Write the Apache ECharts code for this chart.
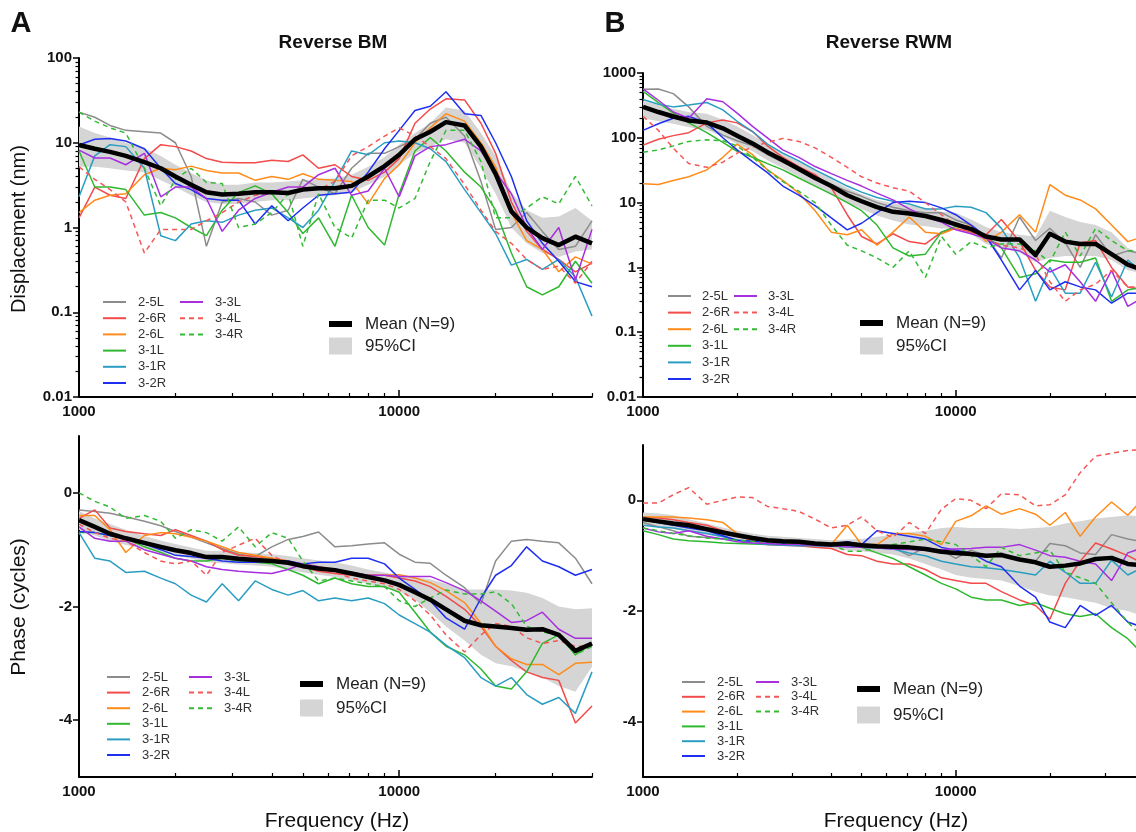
<!DOCTYPE html>
<html>
<head>
<meta charset="utf-8">
<title>Reverse BM / Reverse RWM</title>
<script src="https://cdn.jsdelivr.net/npm/echarts@6.0.0/dist/echarts.min.js"></script>
<style>
html, body { margin: 0; padding: 0; background: #fff; }
#chart { width: 1136px; height: 832px; }
</style>
</head>
<body>
<div id="chart"></div>
<script>
/*
 * Reverse stimulation: BM / RWM displacement and phase, 9 specimens
 */

var freqHz = [1000, 1120, 1250, 1400, 1600, 1800, 2000, 2240, 2500, 2800, 3150,
    3550, 4000, 4500, 5000, 5600, 6300, 7100, 8000, 9000, 10000, 11200, 12500,
    14000, 16000, 18000, 20000, 22400, 25000, 28000, 31500, 35500, 40000];

var specimenNames = ['2-5L', '2-6R', '2-6L', '3-1L', '3-1R', '3-2R', '3-3L', '3-4L', '3-4R'];
var specimenColors = ['#8c8c8c', '#f34a4a', '#ff8c1a', '#2fb82f', '#2a9ec2', '#1f2ff0',
    '#a62fe0', '#f55656', '#34bb34'];
var dashedNames = ['3-4L', '3-4R'];

var freqTickLabels = [1000, 10000];
var freqMinorTicks = [2000, 3000, 4000, 5000, 6000, 7000, 8000, 9000, 20000, 30000, 40000];
var bmDispTicks = [0.01, 0.1, 1, 10, 100];
var rwmDispTicks = [0.01, 0.1, 1, 10, 100, 1000];
var phaseTicks = [-4, -2, 0];

// Reverse BM displacement (nm)
var bmDisp = [
    /* 2-5L */ [23, 20, 16, 14, 13.5, 13, 10, 4, 0.6, 2.0, 2.2, 2.0, 1.4, 1.6, 3.7, 3.0, 2.5, 5, 7.5, 7.5, 9, 11, 17, 20, 12, 3.5, 0.95, 1.0, 1.5, 0.9, 0.55, 0.6, 1.2],
    /* 2-6R */ [1.3, 3.0, 2.4, 2.2, 6.5, 9.5, 9.0, 8, 6.5, 5.9, 5.8, 5.8, 6.2, 6.0, 7.2, 5.0, 5.5, 4.0, 3.6, 4.5, 6.5, 17, 25, 33, 32, 17, 7.5, 2.0, 0.9, 0.55, 0.42, 0.3, 0.38],
    /* 2-6L */ [1.5, 2.1, 2.4, 2.5, 4.2, 5.0, 4.8, 5.3, 4.7, 4.4, 4.4, 3.6, 4.0, 3.7, 4.3, 3.7, 3.6, 3.5, 1.9, 3.8, 5.5, 10, 15, 22, 18, 10, 5.2, 1.5, 0.7, 0.55, 0.3, 0.45, 0.37],
    /* 3-1L */ [8, 3.0, 3.0, 2.8, 1.4, 1.5, 1.3, 1.0, 0.8, 1.6, 2.6, 3.1, 2.5, 1.5, 0.85, 1.3, 0.6, 2.4, 1.0, 0.62, 2.5, 8, 11.5, 8, 4.5, 3.0, 1.6, 0.5, 0.2, 0.16, 0.2, 0.4, 0.22],
    /* 3-1R */ [2.3, 7, 9.5, 9, 5, 0.8, 0.7, 1.1, 1.2, 1.15, 1.4, 1.6, 1.7, 1.3, 1.0, 1.6, 3.5, 8, 7.2, 10, 10.5, 10, 8.5, 6, 2.8, 1.5, 0.85, 0.36, 0.42, 0.32, 0.42, 0.26, 0.09],
    /* 3-2R */ [9.4, 11, 11.2, 10.5, 8.5, 5, 3.3, 2.8, 2.2, 2.1, 2.1, 1.1, 1.8, 1.2, 1.7, 2.4, 2.5, 2.6, 4.5, 8.5, 14, 24, 27, 40, 22, 21, 10, 4, 1.2, 0.65, 0.4, 0.23, 0.2],
    /* 3-3L */ [8.2, 6.6, 6.6, 5.5, 7.5, 2.3, 3.0, 3.0, 2.2, 0.9, 1.6, 2.2, 2.6, 3.0, 3.0, 4.2, 5.0, 2.4, 2.7, 5, 2.3, 7, 9, 9.5, 11, 8, 4.5, 2.5, 1.0, 0.55, 1.0, 0.24, 0.95],
    /* 3-4L */ [5.2, 3.7, 2.8, 2.0, 0.5, 0.95, 0.95, 0.95, 1.2, 1.5, 2.0, 2.4, 2.6, 2.5, 3.0, 2.8, 3.5, 7, 9, 12, 15, 12, 9, 6.5, 3.2, 1.6, 0.9, 0.65, 0.42, 0.32, 0.35, 0.22, 0.4],
    /* 3-4R */ [23, 18, 15, 13, 5, 1.8, 3.7, 5, 3.4, 3.3, 1.0, 1.1, 1.5, 2.5, 0.6, 2.5, 1.0, 0.75, 2.1, 2.1, 1.7, 2.2, 6, 14, 14, 6, 1.3, 1.3, 1.7, 2.3, 1.9, 4, 1.8]
];
var bmDispMean = [9.4, 8.5, 7.8, 7, 5.9, 5.0, 4.0, 3.2, 2.6, 2.45, 2.5, 2.6, 2.6, 2.55, 2.8, 2.9, 2.9, 3.1, 4, 5.3, 7.2, 11, 13.5, 17.5, 16, 9, 4.3, 1.55, 1.0, 0.75, 0.62, 0.78, 0.65];
var bmDispLo = [5.2, 5.2, 5.0, 4.7, 4.5, 3.6, 3.0, 2.4, 2.0, 1.9, 1.9, 2.0, 2.1, 2.1, 2.2, 2.3, 2.4, 2.6, 3.2, 4.0, 5.5, 7.5, 9, 11, 10, 5, 2.5, 1.0, 0.65, 0.5, 0.45, 0.52, 0.55];
var bmDispHi = [15.5, 13, 11.5, 10, 8.7, 7.0, 5.5, 4.4, 3.6, 3.2, 3.2, 3.4, 3.4, 3.5, 3.6, 3.7, 3.8, 4.2, 5.2, 6.8, 9.5, 13, 17, 26, 24, 13, 7, 2.6, 1.6, 1.3, 1.35, 1.7, 1.2];

// Reverse RWM displacement (nm)
var rwmDisp = [
    /* 2-5L */ [560, 565, 480, 300, 150, 110, 90, 75, 55, 42, 33, 25, 19, 15, 12.5, 10, 8.5, 7.5, 7, 7, 5.4, 4.5, 3.0, 1.4, 6.0, 2.6, 4.0, 2.4, 1.0, 3.2, 1.5, 1.8, 1.6],
    /* 2-6R */ [77, 95, 108, 120, 170, 188, 170, 125, 75, 50, 36, 27, 17, 6.5, 3.0, 2.3, 3.3, 2.5, 2.3, 3.5, 4.0, 3.5, 3.2, 5.5, 2.5, 0.9, 0.5, 0.45, 2.4, 2.6, 1.0, 0.5, 0.45],
    /* 2-6L */ [19.5, 19, 22, 25, 32, 50, 80, 55, 32, 22, 14, 7.5, 3.5, 3.2, 3.8, 2.2, 3.5, 6, 3.5, 3.3, 4.0, 4.5, 2.5, 3.5, 6.5, 3.5, 19, 13, 11, 8, 4.5, 2.5, 3.0],
    /* 3-1L */ [520, 350, 240, 170, 120, 85, 62, 50, 40, 32, 24, 18, 13.5, 10, 7.5, 4.5, 2.0, 1.5, 1.6, 3.5, 4.3, 4.0, 3.0, 2.0, 0.7, 0.8, 1.3, 1.2, 1.2, 1.4, 0.3, 0.45, 0.5],
    /* 3-1R */ [390, 330, 300, 320, 350, 270, 180, 125, 80, 58, 44, 32, 24, 18, 14.5, 12, 10.5, 9.5, 8, 8, 8.8, 8.5, 7, 4, 1.4, 0.3, 1.0, 0.4, 0.4, 1.2, 0.35, 1.3, 0.8],
    /* 3-2R */ [130, 165, 200, 215, 170, 100, 65, 43, 29, 18, 13, 9, 5.8, 3.8, 4.8, 7, 10, 10.5, 10, 8.3, 6.5, 4.5, 3.0, 1.3, 0.45, 0.9, 0.45, 0.6, 0.5, 0.45, 0.28, 0.4, 0.4],
    /* 3-3L */ [570, 380, 250, 200, 400, 360, 240, 150, 100, 65, 50, 36, 28, 22, 18, 14, 11, 8, 6, 5, 3.8, 3.3, 2.8, 2.0, 1.8, 1.3, 0.85, 1.1, 0.6, 0.3, 0.9, 0.25, 0.35],
    /* 3-4L */ [215, 130, 69, 40, 35, 42, 58, 72, 85, 98, 88, 70, 50, 35, 25, 20, 17, 15, 10, 6.5, 4.5, 3.5, 2.8, 2.2, 2.0, 1.6, 0.6, 0.3, 0.45, 0.55, 0.9, 0.5, 0.5],
    /* 3-4R */ [60, 65, 75, 88, 93, 90, 75, 50, 32, 21, 15, 10, 4.5, 2.2, 1.8, 1.4, 1.0, 1.8, 0.7, 3.0, 1.6, 2.5, 2.0, 2.3, 2.3, 1.8, 1.2, 3.5, 1.5, 4.0, 2.6, 1.8, 1.8]
];
var rwmDispMean = [300, 250, 213, 185, 172, 140, 108, 82, 60, 45, 33, 24, 18, 13, 10.5, 8.5, 7.2, 6.8, 6.2, 5.4, 4.6, 3.9, 3.0, 2.7, 2.7, 1.55, 3.3, 2.5, 2.3, 2.3, 1.6, 1.1, 0.9];
var rwmDispLo = [200, 180, 165, 145, 132, 105, 80, 62, 45, 34, 25, 18, 13.5, 10, 8, 6.3, 5.3, 4.6, 4.3, 4.0, 4.0, 3.3, 2.3, 2.0, 1.7, 1.2, 1.4, 1.5, 1.5, 1.5, 1.3, 0.9, 0.8];
var rwmDispHi = [370, 320, 280, 250, 235, 190, 150, 110, 78, 58, 44, 31, 23, 17, 13.5, 11, 9.8, 9, 8.3, 7.2, 7.0, 5.5, 4.2, 3.5, 3.2, 3.0, 7.5, 6.0, 5.0, 4.5, 3.5, 2.0, 1.6];

// Reverse BM phase (cycles)
var bmPhase = [
    /* 2-5L */ [-0.3, -0.33, -0.36, -0.42, -0.5, -0.58, -0.68, -0.78, -0.88, -0.98, -1.08, -1.12, -0.95, -0.82, -0.77, -0.69, -0.95, -0.93, -0.9, -0.88, -1.08, -1.22, -1.24, -1.45, -1.67, -1.95, -1.2, -0.85, -0.82, -0.85, -0.88, -1.15, -1.6],
    /* 2-6R */ [-0.45, -0.3, -0.62, -0.68, -0.72, -0.75, -0.65, -0.75, -0.85, -1.0, -1.1, -1.12, -1.15, -1.2, -1.3, -1.38, -1.42, -1.45, -1.45, -1.45, -1.5, -1.55, -1.65, -1.82, -2.05, -2.35, -2.7, -2.95, -3.15, -3.25, -3.3, -4.05, -3.75],
    /* 2-6L */ [-0.4, -0.4, -0.65, -1.05, -0.75, -0.7, -0.72, -0.78, -0.85, -0.95, -1.05, -1.1, -1.15, -1.2, -1.25, -1.3, -1.35, -1.42, -1.45, -1.45, -1.44, -1.5, -1.58, -1.72, -1.93, -2.3, -2.7, -2.92, -3.02, -3.02, -3.2, -3.0, -2.98],
    /* 3-1L */ [-0.7, -0.7, -0.75, -0.8, -0.95, -1.05, -1.15, -1.2, -1.2, -1.15, -1.2, -1.22, -1.25, -1.35, -1.45, -1.6, -1.5, -1.6, -1.65, -1.65, -1.75, -2.1, -2.45, -2.7, -2.85, -3.1, -3.4, -3.45, -3.15, -2.65, -2.5, -2.85, -2.65],
    /* 3-1R */ [-0.7, -1.15, -1.2, -1.4, -1.38, -1.5, -1.6, -1.8, -1.92, -1.6, -1.9, -1.55, -1.7, -1.8, -1.72, -1.9, -1.85, -1.9, -1.85, -1.95, -2.15, -2.3, -2.45, -2.68, -2.9, -3.25, -3.4, -3.25, -3.55, -3.72, -3.6, -3.88, -3.15],
    /* 3-2R */ [-0.68, -0.7, -0.75, -0.8, -0.9, -1.0, -1.1, -1.12, -1.15, -1.2, -1.22, -1.22, -1.2, -1.2, -1.25, -1.22, -1.22, -1.15, -1.15, -1.25, -1.5, -1.7, -1.9, -2.2, -2.4, -1.85, -1.45, -1.28, -0.95, -1.2, -1.3, -1.45, -1.35],
    /* 3-3L */ [-0.6, -0.8, -0.85, -0.85, -1.0, -1.08, -1.15, -1.2, -1.3, -1.35, -1.38, -1.4, -1.42, -1.35, -1.25, -1.3, -1.38, -1.4, -1.45, -1.45, -1.47, -1.47, -1.47, -1.58, -1.72, -1.9, -2.08, -2.28, -2.25, -2.1, -2.4, -2.56, -2.56],
    /* 3-4L */ [-0.55, -0.7, -0.8, -0.85, -1.05, -1.2, -1.25, -1.2, -1.45, -1.05, -0.92, -0.8, -1.1, -1.25, -1.3, -1.35, -1.4, -1.5, -1.55, -1.6, -1.7, -1.9, -2.15, -2.5, -2.8, -2.5, -2.3, -2.35, -2.55, -2.65, -2.6, -2.7, -2.7],
    /* 3-4R */ [0.0, -0.15, -0.25, -0.45, -0.4, -0.5, -0.8, -0.65, -0.7, -0.85, -0.6, -0.95, -0.7, -0.8, -1.2, -1.55, -1.5, -1.55, -1.6, -1.65, -1.9, -2.0, -1.85, -1.71, -1.78, -1.78, -1.74, -1.95, -2.35, -2.45, -2.5, -2.85, -2.7]
];
var bmPhaseMean = [-0.48, -0.6, -0.72, -0.8, -0.88, -0.95, -1.01, -1.06, -1.13, -1.13, -1.16, -1.18, -1.2, -1.23, -1.29, -1.33, -1.36, -1.42, -1.48, -1.54, -1.62, -1.75, -1.88, -2.05, -2.25, -2.33, -2.35, -2.38, -2.41, -2.4, -2.5, -2.78, -2.65];
var bmPhaseLo = [-0.65, -0.75, -0.85, -0.92, -0.98, -1.05, -1.1, -1.16, -1.22, -1.24, -1.26, -1.28, -1.3, -1.35, -1.4, -1.44, -1.48, -1.54, -1.6, -1.68, -1.73, -1.88, -2.1, -2.35, -2.6, -2.85, -3.0, -3.05, -3.15, -3.25, -3.4, -3.5, -3.06];
var bmPhaseHi = [-0.32, -0.45, -0.55, -0.65, -0.76, -0.84, -0.9, -0.96, -1.02, -1.02, -1.04, -1.06, -1.08, -1.11, -1.15, -1.19, -1.22, -1.28, -1.35, -1.4, -1.44, -1.48, -1.52, -1.6, -1.7, -1.7, -1.7, -1.72, -1.76, -1.85, -2.0, -2.05, -2.03];

// Reverse RWM phase (cycles)
var rwmPhase = [
    /* 2-5L */ [-0.4, -0.48, -0.55, -0.65, -0.67, -0.7, -0.72, -0.74, -0.75, -0.78, -0.8, -0.82, -0.83, -0.84, -0.85, -0.85, -0.85, -1.0, -0.85, -0.9, -1.05, -0.9, -1.0, -0.95, -1.05, -1.1, -0.78, -0.82, -0.95, -0.98, -0.62, -0.7, -0.75],
    /* 2-6R */ [-0.3, -0.32, -0.35, -0.4, -0.45, -0.55, -0.65, -0.72, -0.8, -0.81, -0.82, -0.85, -0.87, -0.98, -1.0, -1.1, -1.15, -1.15, -1.25, -1.4, -1.45, -1.5, -1.5, -1.65, -1.8, -1.9, -2.15, -1.5, -1.1, -0.77, -0.88, -1.0, -1.15],
    /* 2-6L */ [-0.3, -0.3, -0.3, -0.32, -0.35, -0.4, -0.6, -0.7, -0.75, -0.77, -0.78, -0.8, -0.8, -0.45, -0.8, -0.8, -0.6, -0.6, -0.65, -0.8, -0.38, -0.28, -0.1, -0.25, -0.15, -0.25, -0.45, -0.22, -0.65, -0.3, -0.03, -0.27, 0.05],
    /* 3-1L */ [-0.55, -0.62, -0.7, -0.73, -0.75, -0.77, -0.78, -0.79, -0.8, -0.8, -0.8, -0.81, -0.82, -0.83, -0.85, -0.95, -1.05, -1.2, -1.35, -1.5, -1.6, -1.75, -1.8, -1.8, -1.9, -1.85, -1.95, -2.05, -2.1, -2.05, -2.3, -2.5, -2.8],
    /* 3-1R */ [-0.45, -0.48, -0.5, -0.55, -0.6, -0.66, -0.72, -0.77, -0.8, -0.81, -0.82, -0.82, -0.83, -0.84, -0.85, -0.86, -0.88, -0.95, -1.0, -1.1, -1.15, -1.2, -1.22, -1.25, -1.3, -1.35, -1.1, -1.3, -1.5, -1.5, -1.08, -1.35, -1.2],
    /* 3-2R */ [-0.35, -0.4, -0.45, -0.5, -0.55, -0.64, -0.72, -0.74, -0.75, -0.78, -0.8, -0.8, -0.8, -0.75, -0.8, -0.55, -0.6, -0.65, -0.7, -0.85, -0.9, -0.95, -1.1, -1.2, -1.55, -1.75, -2.2, -2.3, -1.9, -2.08, -1.9, -2.2, -2.3],
    /* 3-3L */ [-0.5, -0.57, -0.6, -0.55, -0.65, -0.7, -0.75, -0.77, -0.78, -0.8, -0.8, -0.81, -0.82, -0.84, -0.85, -0.86, -0.88, -0.89, -0.9, -0.89, -0.88, -0.87, -0.85, -0.85, -0.8, -0.9, -1.0, -1.03, -1.1, -1.15, -1.45, -0.95, -0.85],
    /* 3-4L */ [-0.05, -0.05, 0.1, 0.23, -0.07, 0.0, 0.06, 0.05, -0.11, -0.15, -0.2, -0.34, -0.5, -0.45, -0.3, -0.55, -0.67, -0.4, -0.6, -0.16, 0.03, 0.0, -0.15, 0.12, 0.1, -0.1, -0.08, 0.1, 0.5, 0.8, 0.85, 0.9, 0.92],
    /* 3-4R */ [-0.5, -0.55, -0.6, -0.64, -0.68, -0.7, -0.72, -0.74, -0.75, -0.77, -0.78, -0.79, -0.8, -0.92, -0.92, -0.85, -0.8, -0.75, -0.7, -0.75, -0.8, -1.0, -1.2, -0.85, -1.0, -0.95, -0.9, -1.3, -1.4, -1.5, -1.85, -2.2, -2.5]
];
var rwmPhaseMean = [-0.34, -0.38, -0.42, -0.45, -0.52, -0.58, -0.63, -0.68, -0.72, -0.74, -0.75, -0.78, -0.8, -0.78, -0.81, -0.83, -0.84, -0.85, -0.88, -0.93, -0.95, -0.97, -1.0, -0.99, -1.07, -1.12, -1.2, -1.18, -1.14, -1.06, -1.04, -1.15, -1.18];
var rwmPhaseLo = [-0.45, -0.48, -0.52, -0.57, -0.62, -0.67, -0.72, -0.76, -0.8, -0.82, -0.83, -0.86, -0.88, -0.9, -0.92, -0.95, -0.98, -1.05, -1.15, -1.25, -1.35, -1.4, -1.42, -1.45, -1.55, -1.65, -1.72, -1.75, -1.8, -1.85, -1.95, -2.0, -2.1];
var rwmPhaseHi = [-0.22, -0.24, -0.27, -0.34, -0.42, -0.49, -0.55, -0.6, -0.64, -0.66, -0.68, -0.7, -0.72, -0.71, -0.7, -0.66, -0.62, -0.58, -0.55, -0.5, -0.48, -0.5, -0.5, -0.5, -0.52, -0.5, -0.48, -0.42, -0.38, -0.33, -0.3, -0.27, -0.3];

var FONT = '"Liberation Sans", Arial, sans-serif';
var CI_COLOR = '#d5d5d5';
var MEAN_NAME = 'Mean (N=9)';
var CI_NAME = '95%CI';

var PANELS = [
    {grid: {left: 79, top: 58, width: 513, height: 339}, log: true, yMin: 0.01, yMax: 100,
        yTicks: bmDispTicks, rows: bmDisp, mean: bmDispMean, lo: bmDispLo, hi: bmDispHi,
        leg: {c1: [102, 295], c2: [179, 295], pitch: 16.2, pad: 12, mean: [329, 315], ci: [329, 337]}},
    {grid: {left: 643, top: 73, width: 501, height: 324}, log: true, yMin: 0.01, yMax: 1000,
        yTicks: rwmDispTicks, rows: rwmDisp, mean: rwmDispMean, lo: rwmDispLo, hi: rwmDispHi,
        leg: {c1: [667, 289], c2: [733, 289], pitch: 16.6, pad: 11, mean: [860, 314], ci: [860, 337]}},
    {grid: {left: 79, top: 436, width: 513, height: 341}, log: false, yMin: -5, yMax: 1,
        yTicks: phaseTicks, rows: bmPhase, mean: bmPhaseMean, lo: bmPhaseLo, hi: bmPhaseHi,
        leg: {c1: [106, 670], c2: [188, 670], pitch: 15.6, pad: 12, mean: [300, 675], ci: [300, 699]}},
    {grid: {left: 643, top: 445, width: 501, height: 332}, log: false, yMin: -5, yMax: 1,
        yTicks: phaseTicks, rows: rwmPhase, mean: rwmPhaseMean, lo: rwmPhaseLo, hi: rwmPhaseHi,
        leg: {c1: [681, 675], c2: [755, 675], pitch: 14.8, pad: 12, mean: [857, 680], ci: [857, 706]}}
];

function log_minor_ticks(ticks)
{
    var out = [];
    for (var i = 0; i < ticks.length - 1; i++) {
        for (var m = 2; m <= 9; m++) {
            out.push(+(ticks[i] * m).toPrecision(3));
        }
    }
    return out;
}

function zip_freq(values)
{
    return values.map(function (v, k) { return [freqHz[k], v]; });
}

function tick_label_style()
{
    return {fontFamily: FONT, fontWeight: 'bold', fontSize: 15, color: '#111'};
}

var grids = [];
var xAxes = [];
var yAxes = [];
var series = [];
var legends = [];
var NOSYM = {color: 'rgba(0,0,0,0)', borderColor: 'rgba(0,0,0,0)', borderWidth: 0, opacity: 0};

PANELS.forEach(function (p, i) {
    grids.push(Object.assign({outerBoundsMode: 'none', containLabel: false}, p.grid));

    // x axes: main (labels + major ticks), then one for minor ticks only
    var xMain = {
        type: 'log', gridIndex: i, min: 1000, max: 40000, position: 'bottom',
        axisLine: {show: true, onZero: false, lineStyle: {color: '#000', width: 2}},
        axisTick: {show: true, inside: true, length: 7, customValues: freqTickLabels,
            lineStyle: {color: '#000', width: 1.5}},
        axisLabel: {show: true, margin: 7, customValues: freqTickLabels,
            formatter: function (v) { return String(Math.round(v)); }},
        splitLine: {show: false}
    };
    Object.assign(xMain.axisLabel, tick_label_style());
    xAxes[i] = xMain;

    xAxes[PANELS.length + i] = {
        type: 'log', gridIndex: i, min: 1000, max: 40000, position: 'bottom',
        axisLine: {show: false, onZero: false},
        axisTick: {show: true, inside: true, length: 4, customValues: freqMinorTicks,
            lineStyle: {color: '#000', width: 1.2}},
        axisLabel: {show: false},
        splitLine: {show: false}
    };

    var yMain = {
        type: p.log ? 'log' : 'value', gridIndex: i, min: p.yMin, max: p.yMax, position: 'left',
        axisLine: {show: true, onZero: false, lineStyle: {color: '#000', width: 2}},
        axisTick: {show: true, length: 6, customValues: p.yTicks,
            lineStyle: {color: '#000', width: 1.5}},
        axisLabel: {show: true, margin: 7, customValues: p.yTicks,
            formatter: function (v) { return String(+(+v).toPrecision(3)); }},
        splitLine: {show: false}
    };
    Object.assign(yMain.axisLabel, tick_label_style());
    yAxes[i] = yMain;

    yAxes[PANELS.length + i] = {
        type: p.log ? 'log' : 'value', gridIndex: i, min: p.yMin, max: p.yMax, position: 'left',
        axisLine: {show: false, onZero: false},
        axisTick: {show: p.log, length: 3.5,
            customValues: p.log ? log_minor_ticks(p.yTicks) : [],
            lineStyle: {color: '#000', width: 1.2}},
        axisLabel: {show: false},
        splitLine: {show: false}
    };

    // 95% confidence band as one polygon through the axis scales
    series.push({
        type: 'custom', name: CI_NAME, xAxisIndex: i, yAxisIndex: i, z: 1, silent: true,
        itemStyle: {color: CI_COLOR},
        data: [[freqHz[0], p.mean[0]]],
        encode: {x: 0, y: 1},
        renderItem: function (params, api) {
            var pts = [];
            for (var k = 0; k < freqHz.length; k++) {
                pts.push(api.coord([freqHz[k], p.hi[k]]));
            }
            for (var k2 = freqHz.length - 1; k2 >= 0; k2--) {
                pts.push(api.coord([freqHz[k2], p.lo[k2]]));
            }
            return {
                type: 'polygon', shape: {points: pts},
                style: {fill: CI_COLOR, stroke: null},
                clipPath: {type: 'rect', shape: {
                    x: params.coordSys.x, y: params.coordSys.y,
                    width: params.coordSys.width, height: params.coordSys.height}}
            };
        }
    });

    p.rows.forEach(function (row, s) {
        var name = specimenNames[s];
        var dashed = dashedNames.indexOf(name) >= 0;
        series.push({
            type: 'line', name: name, xAxisIndex: i, yAxisIndex: i, z: 2,
            symbol: 'none', showSymbol: false, silent: true, clip: true,
            color: specimenColors[s],
            lineStyle: {color: specimenColors[s], width: 1.5, type: dashed ? [5, 4] : 'solid'},
            data: zip_freq(row)
        });
    });

    series.push({
        type: 'line', name: MEAN_NAME, xAxisIndex: i, yAxisIndex: i, z: 3,
        symbol: 'none', showSymbol: false, silent: true, clip: true,
        color: '#000',
        lineStyle: {color: '#000', width: 4.5, join: 'round'},
        data: zip_freq(p.mean)
    });

    var txt = {fontFamily: FONT, fontSize: 13, color: '#333', lineHeight: 14,
        padding: [0, 0, 0, p.leg.pad - 5]};
    legends.push({
        orient: 'vertical', left: p.leg.c1[0], top: p.leg.c1[1], padding: 0,
        itemWidth: 23, itemHeight: 10, itemGap: p.leg.pitch - 14, selectedMode: false,
        itemStyle: NOSYM, lineStyle: {width: 2}, textStyle: txt,
        data: specimenNames.slice(0, 6)
    });
    legends.push({
        orient: 'vertical', left: p.leg.c2[0], top: p.leg.c2[1], padding: 0,
        itemWidth: 23, itemHeight: 10, itemGap: p.leg.pitch - 14, selectedMode: false,
        itemStyle: NOSYM, lineStyle: {width: 2}, textStyle: txt,
        data: specimenNames.slice(6)
    });
    var big = {fontFamily: FONT, fontSize: 17, color: '#222', lineHeight: 18, padding: [0, 0, 0, 8]};
    legends.push({
        orient: 'vertical', left: p.leg.mean[0], top: p.leg.mean[1], padding: 0,
        itemWidth: 23, itemHeight: 6, selectedMode: false, icon: 'rect',
        itemStyle: {color: '#000'}, textStyle: big, data: [MEAN_NAME]
    });
    legends.push({
        orient: 'vertical', left: p.leg.ci[0], top: p.leg.ci[1], padding: 0,
        itemWidth: 23, itemHeight: 17, selectedMode: false, icon: 'rect',
        itemStyle: {color: CI_COLOR}, textStyle: big, data: [CI_NAME]
    });
});

function label(text, x, y, font, rot)
{
    return {
        type: 'text', x: x, y: y, rotation: rot || 0, silent: true,
        style: {text: text, font: font, fill: '#111', align: 'center', verticalAlign: 'middle'}
    };
}

var option = {
    animation: false,
    backgroundColor: '#fff',
    textStyle: {fontFamily: FONT},
    grid: grids,
    xAxis: xAxes,
    yAxis: yAxes,
    legend: legends,
    series: series,
    graphic: [
        label('A', 21, 24, 'bold 29px ' + FONT),
        label('B', 615, 24, 'bold 29px ' + FONT),
        label('Reverse BM', 333, 43, 'bold 19px ' + FONT),
        label('Reverse RWM', 889, 43, 'bold 19px ' + FONT),
        label('Displacement (nm)', 19, 229, '20px ' + FONT, Math.PI / 2),
        label('Phase (cycles)', 19, 607, '21px ' + FONT, Math.PI / 2),
        label('Frequency (Hz)', 337, 821, '21px ' + FONT),
        label('Frequency (Hz)', 896, 821, '21px ' + FONT)
    ]
};

var chart = echarts.init(document.getElementById('chart'), null, {renderer: 'canvas'});
chart.setOption(option);
</script>
</body>
</html>
